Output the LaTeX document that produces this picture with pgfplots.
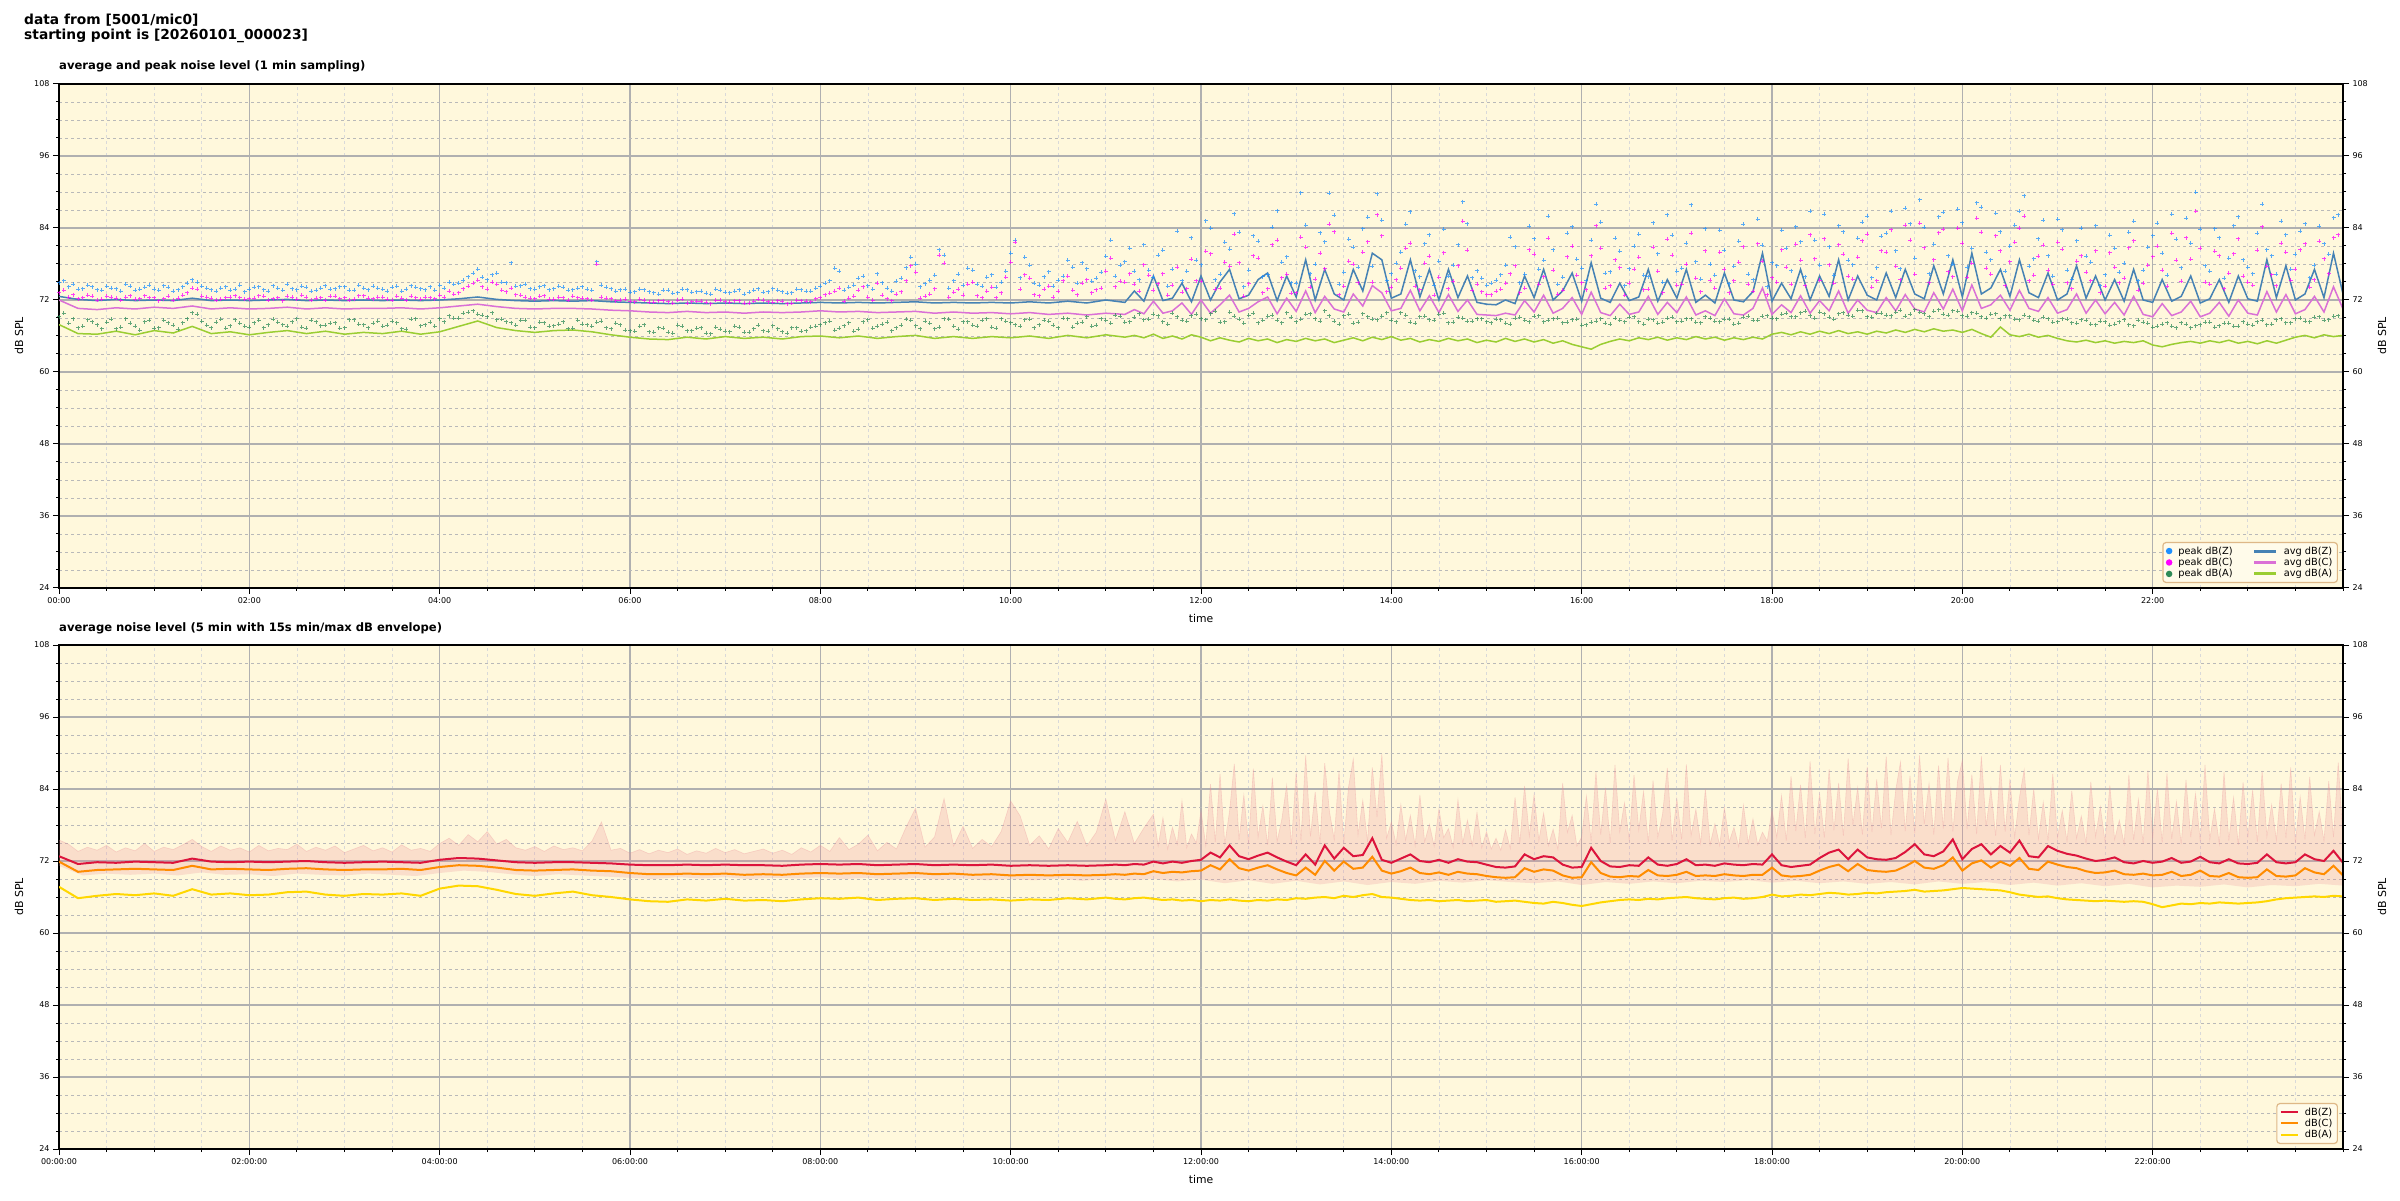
\documentclass[border=0pt]{standalone}
\usepackage{pgfplots}
\pgfplotsset{compat=1.18}
\usepackage{pgfplotstable}
\usepgfplotslibrary{fillbetween}
\usepackage{fontspec}
\setmainfont{DejaVu Sans}

\definecolor{cornsilk}{RGB}{255,248,220}
\definecolor{peakz}{RGB}{30,144,255}
\definecolor{peakc}{RGB}{255,0,255}
\definecolor{peaka}{RGB}{46,139,87}
\definecolor{avgz}{RGB}{70,130,180}
\definecolor{avgc}{RGB}{218,112,214}
\definecolor{avga}{RGB}{154,205,50}
\definecolor{lvlz}{RGB}{220,20,60}
\definecolor{lvlc}{RGB}{255,140,0}
\definecolor{lvla}{RGB}{255,215,0}
\definecolor{envcol}{RGB}{235,140,150}
\definecolor{legedge}{RGB}{222,184,135}
\definecolor{gridmaj}{RGB}{176,176,176}

\pgfplotsset{
  lineleg/.style={legend image code/.code={\draw[##1, line width=3pt] (0pt,0pt) -- (22pt,0pt);}},
  dotleg/.style={legend image code/.code={\fill[##1] (11pt,0pt) circle (2.6pt);}},
  peaks/.style={only marks, mark=+, mark size=2pt, opacity=0.75, mark options={line width=0.9pt}, forget plot},
  noise/.style={
    scale only axis, width=2284pt, height=504pt,
    xmin=0, xmax=24, ymin=24, ymax=108,
    xtick={0,2,...,22}, minor xtick={0,0.5,...,24},
    ytick={24,36,...,108}, minor ytick={24,27,...,108},
    grid=both,
    major grid style={gridmaj, line width=1.3pt},
    minor x grid style={gray!30, dashed, line width=0.8pt},
    minor y grid style={gray!55, dashed, line width=0.8pt},
    axis background/.style={fill=cornsilk},
    axis line style={line width=1.5pt},
    tick style={black, line width=1pt},
    major tick length=6pt, minor tick length=3pt,
    tick align=outside,
    xtick pos=left, ytick pos=left,
    tick label style={font=\fontsize{8}{9}\selectfont},
    /pgf/number format/assume math mode=true,
    title style={at={(0,1)}, anchor=base west, yshift=8pt, inner sep=0pt,
      font=\bfseries\fontsize{11.6}{13}\selectfont},
    xlabel={time},
    xlabel style={at={(axis description cs:0.5,0)}, anchor=north, yshift=-26pt,
      inner sep=0pt, font=\fontsize{10.8}{12}\selectfont},
    ylabel={dB SPL},
    ylabel style={at={(axis description cs:0,0.5)}, anchor=center, yshift=40pt,
      font=\fontsize{11}{12}\selectfont},
    legend cell align=left,
    legend style={anchor=south east, at={(axis description cs:0.9978,0.0099)},
      draw=legedge, line width=1.2pt, rounded corners=3pt, fill=cornsilk!60!white,
      font=\fontsize{9.8}{11}\selectfont, row sep=-1.5pt,
      /tikz/every odd column/.append style={column sep=4pt},
      /tikz/every even column/.append style={column sep=18pt}},
  },
  rightax/.style={
    scale only axis, width=2284pt, height=504pt,
    xmin=0, xmax=24, ymin=24, ymax=108,
    hide x axis, axis y line*=right,
    ytick={24,36,...,108}, minor ytick={24,27,...,108},
    axis line style={line width=1.5pt},
    tick style={black, line width=1pt},
    major tick length=6pt, minor tick length=3pt,
    tick align=outside,
    tick label style={font=\fontsize{8}{9}\selectfont},
    /pgf/number format/assume math mode=true,
    ylabel={dB SPL},
    ylabel style={at={(axis description cs:1,0.5)}, anchor=center, yshift=-39pt,
      font=\fontsize{11}{12}\selectfont},
  },
}

\begin{document}

% 1 min averages
\pgfplotstableread{
t z c a
0.0 72.6 72.0 67.9
0.2 72.1 70.6 66.4
0.4 71.9 70.4 66.3
0.6 72.1 70.7 66.8
0.8 71.9 70.5 66.2
1.0 72.0 70.8 66.9
1.2 71.9 70.6 66.5
1.4 72.3 71.0 67.6
1.6 71.9 70.5 66.4
1.8 72.0 70.7 66.7
2.0 71.9 70.5 66.2
2.2 72.0 70.6 66.6
2.4 72.1 70.8 66.9
2.6 71.9 70.5 66.4
2.8 72.0 70.7 66.8
3.0 71.9 70.5 66.3
3.2 72.0 70.6 66.6
3.4 71.9 70.6 66.4
3.6 72.0 70.7 66.8
3.8 71.9 70.5 66.3
4.0 72.0 70.7 66.7
4.2 72.2 71.0 67.6
4.4 72.5 71.3 68.5
4.6 72.1 70.9 67.4
4.8 71.9 70.6 66.9
5.0 71.8 70.5 66.6
5.2 71.9 70.6 66.9
5.4 71.8 70.6 67.0
5.6 71.9 70.5 66.7
5.8 71.7 70.3 66.2
6.0 71.6 70.2 65.8
6.2 71.5 70.0 65.5
6.4 71.4 69.9 65.4
6.6 71.5 70.1 65.8
6.8 71.4 69.9 65.5
7.0 71.5 70.0 65.9
7.2 71.4 69.8 65.6
7.4 71.5 70.0 65.8
7.6 71.4 69.9 65.5
7.8 71.5 70.0 65.9
8.0 71.6 70.2 66.0
8.2 71.5 70.0 65.7
8.4 71.6 70.1 66.0
8.6 71.5 69.9 65.6
8.8 71.6 70.0 65.9
9.0 71.7 70.1 66.1
9.2 71.5 69.8 65.6
9.4 71.6 70.0 65.9
9.6 71.5 69.8 65.6
9.8 71.6 69.9 65.9
10.0 71.5 69.7 65.7
10.2 71.7 69.9 66.0
10.4 71.5 69.6 65.6
10.6 71.8 69.8 66.1
10.8 71.5 69.5 65.7
11.0 72.0 69.8 66.2
11.2 71.6 69.6 65.8
11.3 73.5 70.4 66.1
11.4 71.8 69.7 65.7
11.5 76.0 71.8 66.3
11.6 71.9 69.8 65.6
11.7 72.3 70.2 66.0
11.8 74.8 71.5 65.5
11.9 71.7 69.6 66.2
12.0 76.0 72.0 65.8
12.1 72.0 69.8 65.2
12.2 75.0 71.2 65.7
12.3 77.1 72.8 65.3
12.4 72.2 70.0 65.0
12.5 72.8 70.6 65.6
12.6 75.4 71.7 65.2
12.7 76.5 72.5 65.5
12.8 71.9 69.7 64.9
12.9 76.0 72.3 65.4
13.0 72.5 70.1 65.1
13.1 78.7 73.5 65.6
13.2 72.0 69.9 65.2
13.3 77.1 72.6 65.5
13.4 73.0 70.5 64.9
13.5 72.0 70.0 65.3
13.6 77.1 73.0 65.7
13.7 73.5 71.0 65.2
13.8 79.8 74.4 65.8
13.9 78.7 73.2 65.4
14.0 72.3 70.2 65.9
14.1 73.0 70.6 65.3
14.2 78.7 73.6 65.6
14.3 72.5 70.2 65.0
14.4 77.1 72.7 65.4
14.5 72.0 69.9 65.1
14.6 77.1 72.9 65.6
14.7 72.4 70.1 65.2
14.8 76.0 72.0 65.5
14.9 71.6 69.6 64.9
15.0 71.3 69.5 65.3
15.1 71.2 69.4 65.0
15.2 72.0 69.8 65.6
15.3 71.4 69.5 65.1
15.4 76.0 71.9 65.5
15.5 72.4 70.0 65.0
15.6 77.1 72.8 65.4
15.7 72.0 69.8 64.8
15.8 73.5 70.6 65.2
15.9 76.5 72.4 64.6
16.0 71.8 69.6 64.2
16.1 78.2 73.3 63.8
16.2 72.3 69.9 64.6
16.3 71.6 69.4 65.1
16.4 74.8 71.3 65.5
16.5 71.9 69.6 65.2
16.6 72.5 70.0 65.7
16.7 77.1 72.6 65.4
16.8 71.8 69.6 65.8
16.9 75.4 71.6 65.3
17.0 72.3 69.9 65.7
17.1 77.1 72.5 65.4
17.2 71.6 69.5 65.9
17.3 72.8 70.2 65.5
17.4 71.5 69.4 65.8
17.5 76.5 72.2 65.3
17.6 72.0 69.7 65.7
17.7 71.7 69.5 65.4
17.8 73.4 70.6 65.8
17.9 79.8 74.0 65.5
18.0 71.8 69.6 66.3
18.1 74.8 71.2 66.6
18.2 72.2 69.9 66.2
18.3 77.1 72.7 66.7
18.4 72.0 69.8 66.3
18.5 76.0 71.9 66.8
18.6 72.6 70.2 66.4
18.7 78.7 73.5 66.9
18.8 72.0 69.8 66.4
18.9 76.0 72.0 66.7
19.0 72.8 70.3 66.3
19.1 72.0 69.9 66.8
19.2 76.5 72.4 66.5
19.3 72.4 70.2 67.0
19.4 77.1 72.9 66.6
19.5 73.0 70.5 67.1
19.6 72.2 70.0 66.7
19.7 77.7 73.2 67.2
19.8 73.0 70.5 66.8
19.9 78.7 73.8 67.0
20.0 72.5 70.2 66.6
20.1 79.8 74.5 67.1
20.2 73.0 70.6 66.4
20.3 74.0 71.2 65.8
20.4 77.1 72.8 67.5
20.5 72.6 70.3 66.2
20.6 78.7 73.6 65.9
20.7 73.2 70.6 66.3
20.8 72.4 70.1 65.8
20.9 76.5 72.4 66.1
21.0 72.0 69.8 65.6
21.1 73.0 70.4 65.2
21.2 77.7 73.0 65.0
21.3 72.3 69.8 65.3
21.4 76.0 72.0 64.9
21.5 72.0 69.7 65.2
21.6 75.4 71.6 64.8
21.7 71.8 69.5 65.1
21.8 77.1 72.6 64.9
21.9 72.0 69.6 65.2
22.0 71.6 69.2 64.5
22.1 75.4 71.4 64.2
22.2 71.8 69.4 64.6
22.3 72.6 70.0 64.9
22.4 76.0 71.8 65.1
22.5 71.5 69.2 64.8
22.6 72.2 69.8 65.2
22.7 75.4 71.6 64.9
22.8 71.6 69.3 65.3
22.9 76.0 72.0 64.8
23.0 72.2 69.8 65.1
23.1 71.8 69.5 64.7
23.2 78.7 73.4 65.2
23.3 72.4 70.0 64.8
23.4 77.7 72.9 65.3
23.5 72.0 69.7 65.8
23.6 73.0 70.4 66.1
23.7 77.1 72.6 65.7
23.8 72.4 70.0 66.2
23.9 79.8 74.2 65.9
24.0 73.0 70.5 66.1
}\avgtab

% 1 min peaks (first set)
\pgfplotstableread{
t pz pc pa
0.05 75.2 73.6 69.8
0.15 74.6 72.9 68.9
0.25 73.9 72.4 67.6
0.35 74.2 72.6 68.4
0.45 73.6 72.1 67.2
0.55 74.0 72.5 68.8
0.65 73.5 72.0 67.5
0.75 74.3 72.7 68.1
0.85 73.8 72.2 67.0
0.95 74.5 72.4 68.6
1.05 73.6 71.9 67.4
1.15 74.1 72.6 68.2
1.25 73.7 72.3 67.1
1.35 74.8 73.2 68.9
1.45 75.0 73.8 69.6
1.55 74.0 72.5 67.8
1.65 73.5 72.0 68.3
1.75 74.2 72.4 67.3
1.85 73.8 72.7 68.7
1.95 73.4 72.1 67.6
2.05 74.1 72.3 68.2
2.15 73.7 72.6 67.4
2.25 74.4 72.2 68.8
2.35 73.6 71.9 67.9
2.45 73.9 72.5 68.4
2.55 74.3 72.8 67.5
2.65 73.5 72.0 68.6
2.75 74.0 72.4 67.7
2.85 73.8 72.6 68.1
2.95 74.2 72.2 67.3
3.05 73.6 72.0 68.7
3.15 74.5 72.7 68.0
3.25 73.7 72.3 67.4
3.35 74.0 72.5 68.5
3.45 73.5 72.1 67.8
3.55 74.3 72.6 68.2
3.65 73.8 72.0 67.1
3.75 74.1 72.4 68.9
3.85 73.7 72.5 67.9
3.95 73.6 72.2 67.6
4.05 74.0 72.5 68.4
4.15 74.6 73.0 69.0
4.25 75.3 73.9 69.8
4.35 76.5 74.8 70.2
4.45 75.8 74.2 69.5
4.55 76.2 75.0 69.9
4.65 75.0 73.6 68.8
4.75 78.2 74.0 68.2
4.85 74.4 72.8 68.6
4.95 73.9 72.3 67.5
5.05 74.2 72.6 68.3
5.15 73.7 72.1 67.6
5.25 74.3 72.5 68.0
5.35 73.6 72.0 67.2
5.45 74.0 72.4 68.6
5.55 73.8 72.2 67.9
5.65 78.4 78.0 68.3
5.75 74.1 72.3 67.4
5.85 73.5 71.9 68.1
5.95 73.8 72.1 67.0
6.05 73.4 71.7 66.8
6.15 73.7 72.0 67.9
6.25 73.2 71.6 66.6
6.35 73.6 71.9 67.3
6.45 73.1 71.5 66.5
6.55 73.8 72.1 67.6
6.65 73.3 71.7 66.9
6.75 73.5 71.8 67.4
6.85 73.0 71.4 66.4
6.95 73.6 72.0 67.1
7.05 73.2 71.6 66.7
7.15 73.7 71.9 67.5
7.25 73.3 71.5 66.6
7.35 73.9 72.1 67.8
7.45 73.4 71.7 66.8
7.55 73.6 71.9 67.2
7.65 73.1 71.4 66.5
7.75 73.8 72.0 67.4
7.85 73.5 71.8 66.9
7.95 74.0 72.2 67.6
8.05 74.8 72.9 68.2
8.15 77.3 73.5 67.0
8.25 73.6 71.8 67.7
8.35 74.5 72.6 66.8
8.45 76.0 74.2 68.4
8.55 73.8 72.0 67.3
8.65 74.9 72.8 68.0
8.75 73.5 71.9 66.9
8.85 75.6 73.4 67.8
8.95 79.1 77.7 68.6
9.05 74.2 72.3 67.2
9.15 75.3 73.0 68.1
9.25 80.4 79.5 67.5
9.35 74.0 72.5 68.8
9.45 76.3 73.8 67.1
9.55 77.3 74.6 68.4
9.65 74.6 72.7 67.6
9.75 75.8 73.5 68.9
9.85 74.1 72.4 67.3
9.95 76.8 75.8 68.5
10.05 82.0 81.6 67.9
10.15 79.1 76.2 68.7
10.25 74.8 72.9 67.4
10.35 75.9 73.8 68.6
10.45 74.3 72.5 67.8
10.55 76.0 75.2 69.0
10.65 77.5 73.6 67.5
10.75 78.2 74.8 68.3
10.85 75.1 73.2 67.6
10.95 76.6 74.0 68.9
11.05 82.0 79.0 68.1
11.15 77.8 75.1 69.3
11.25 80.6 76.4 68.4
11.35 75.4 73.5 69.7
11.45 77.0 76.1 68.8
11.55 79.5 74.7 69.4
11.65 74.3 72.8 68.0
11.75 83.5 77.5 69.2
11.85 76.8 73.9 68.5
11.95 78.6 75.2 69.6
12.05 85.2 80.1 68.7
12.15 75.4 73.8 70.1
12.25 81.6 78.3 68.4
12.35 86.4 83.0 69.3
12.45 74.2 72.6 68.1
12.55 82.7 79.4 69.8
12.65 75.9 73.2 68.6
12.75 84.1 81.2 69.5
12.85 78.3 75.7 68.2
12.95 74.9 73.1 69.1
13.05 89.9 82.5 68.8
13.15 76.4 74.1 69.7
13.25 83.2 79.8 68.5
13.35 89.8 84.6 69.4
13.45 74.6 72.9 68.0
13.55 82.1 78.5 69.6
13.65 77.5 74.9 68.3
13.75 85.8 81.7 69.2
13.85 89.7 86.2 68.7
13.95 75.3 73.4 69.9
14.05 78.1 75.4 68.4
14.15 84.6 80.6 69.5
14.25 76.9 74.3 68.1
14.35 81.4 78.1 69.3
14.45 74.5 72.8 68.6
14.55 83.8 79.9 69.8
14.65 77.8 75.1 68.3
14.75 88.4 85.1 69.0
14.85 75.7 73.6 68.5
14.95 75.6 73.4 68.9
15.05 74.8 72.9 68.2
15.15 76.2 73.8 68.7
15.25 82.5 76.4 68.0
15.35 74.9 73.2 69.1
15.45 84.3 80.4 68.4
15.55 77.1 74.6 69.4
15.65 86.0 82.3 68.6
15.75 74.6 73.0 69.0
15.85 83.1 79.2 68.3
15.95 78.8 76.1 68.8
16.05 75.2 73.7 67.9
16.15 88.0 84.4 68.5
16.25 76.5 74.0 68.1
16.35 82.3 78.7 69.0
16.45 74.4 72.8 68.4
16.55 81.0 77.1 69.2
16.65 76.1 73.7 68.0
16.75 84.9 80.8 68.7
16.85 75.0 73.2 68.3
16.95 82.8 79.5 69.1
17.05 77.3 74.6 68.5
17.15 87.9 83.1 68.9
17.25 75.5 73.4 68.2
17.35 78.0 75.3 69.0
17.45 83.6 80.0 68.4
17.55 74.7 73.2 68.8
17.65 81.8 78.3 68.1
17.75 76.3 74.6 69.3
17.85 85.5 81.4 68.6
17.95 74.2 72.9 69.4
18.05 77.7 75.0 68.9
18.15 80.6 77.5 69.8
18.25 84.2 81.3 69.2
18.35 75.9 74.4 70.1
18.45 82.0 78.9 69.0
18.55 86.3 82.2 69.7
18.65 76.1 74.8 68.8
18.75 83.4 79.6 69.9
18.85 77.9 75.5 69.3
18.95 85.0 81.9 70.2
19.05 75.7 74.1 69.1
19.15 82.6 80.2 69.8
19.25 86.8 83.7 69.4
19.35 77.2 75.4 70.3
19.45 84.7 82.0 69.6
19.55 88.7 84.8 70.0
19.65 76.4 74.9 69.2
19.75 85.9 83.2 70.4
19.85 79.4 76.7 69.5
19.95 87.1 84.0 70.1
20.05 77.5 75.8 69.3
20.15 88.2 85.6 69.8
20.25 80.0 77.3 69.0
20.35 86.5 82.7 69.7
20.45 76.8 74.4 69.4
20.55 84.5 81.6 68.8
20.65 89.4 86.0 69.5
20.75 78.9 76.1 68.6
20.85 85.3 81.1 69.1
20.95 76.0 74.6 68.3
21.05 83.7 80.5 68.9
21.15 75.5 73.9 68.2
21.25 84.0 79.4 68.7
21.35 78.3 75.2 68.0
21.45 74.4 73.2 68.5
21.55 82.8 79.9 67.8
21.65 76.6 74.9 68.4
21.75 83.3 80.7 67.9
21.85 75.2 73.6 68.6
21.95 80.8 77.8 68.1
22.05 84.8 81.0 67.6
22.15 76.1 74.3 68.2
22.25 82.1 78.6 67.4
22.35 85.6 82.4 68.0
22.45 90.0 86.8 67.7
22.55 77.7 75.0 68.3
22.65 83.9 80.1 67.5
22.75 75.6 73.9 68.1
22.85 84.4 79.7 67.6
22.95 78.7 76.0 68.4
23.05 76.4 74.5 67.8
23.15 88.0 84.2 68.6
23.25 79.4 76.2 68.0
23.35 85.1 81.5 68.9
23.45 77.1 75.3 68.2
23.55 83.5 80.4 69.0
23.65 75.7 74.1 68.4
23.75 84.3 81.8 69.2
23.85 79.6 76.4 68.7
23.95 86.2 82.9 69.4
}\peaktab

% 1 min peaks (second set)
\pgfplotstableread{
t pz pc pa
0.0 74.9 73.2 69.2
0.1 74.2 72.5 68.1
0.2 73.8 72.2 67.4
0.3 74.5 72.8 68.7
0.4 73.7 72.0 67.9
0.5 74.3 72.6 68.3
0.6 73.9 72.3 67.2
0.7 74.6 72.5 68.9
0.8 73.6 72.1 67.6
0.9 74.1 72.7 68.4
1.0 73.8 72.4 67.3
1.1 74.4 72.2 68.6
1.2 73.5 72.0 67.8
1.3 74.2 72.8 68.2
1.4 75.4 74.0 69.9
1.5 74.3 72.6 68.5
1.6 73.7 72.3 67.4
1.7 74.0 72.1 68.8
1.8 73.6 72.5 67.7
1.9 74.5 72.4 68.1
2.0 73.8 72.2 67.5
2.1 74.2 72.7 68.6
2.2 73.5 72.0 67.9
2.3 74.0 72.4 68.3
2.4 74.6 72.6 67.6
2.5 73.7 72.1 68.9
2.6 74.1 72.5 67.3
2.7 73.6 72.3 68.4
2.8 74.4 72.0 67.8
2.9 73.9 72.6 68.2
3.0 74.2 72.4 67.4
3.1 73.6 72.1 68.7
3.2 74.0 72.7 67.9
3.3 74.3 72.2 68.1
3.4 73.8 72.5 67.6
3.5 74.1 72.0 68.5
3.6 73.5 72.3 67.2
3.7 74.4 72.6 68.8
3.8 73.9 72.1 67.7
3.9 74.2 72.4 68.3
4.0 74.5 72.8 68.9
4.1 75.0 73.5 69.4
4.2 74.8 73.2 69.0
4.3 75.9 74.3 70.0
4.4 77.1 75.3 69.6
4.5 75.4 73.8 69.2
4.6 76.5 74.6 68.7
4.7 74.9 73.4 68.4
4.8 74.3 72.9 67.8
4.9 74.6 72.5 68.6
5.0 73.8 72.2 67.4
5.1 74.4 72.7 68.2
5.2 73.9 72.1 67.7
5.3 74.1 72.4 68.4
5.4 73.7 72.6 67.3
5.5 74.2 72.3 68.0
5.6 73.6 72.0 67.6
5.7 74.5 72.5 68.5
5.8 73.9 72.2 67.2
5.9 73.7 72.0 67.9
6.0 73.3 71.8 66.9
6.1 73.8 72.1 67.6
6.2 73.4 71.6 66.7
6.3 73.0 71.9 67.4
6.4 73.6 71.7 66.6
6.5 73.2 72.0 67.8
6.6 73.7 71.5 66.9
6.7 73.4 71.8 67.3
6.8 73.1 71.6 66.5
6.9 73.8 72.0 67.5
7.0 73.3 71.7 66.8
7.1 73.5 71.9 67.6
7.2 73.0 71.5 66.6
7.3 73.6 71.8 67.2
7.4 73.3 72.0 66.9
7.5 73.9 71.6 67.7
7.6 73.4 71.8 66.7
7.7 73.2 71.5 67.4
7.8 73.7 71.9 66.8
7.9 73.5 71.7 67.5
8.0 74.3 72.4 67.9
8.1 75.2 73.1 68.5
8.2 76.8 74.0 67.3
8.3 74.1 72.3 68.2
8.4 75.6 73.6 67.1
8.5 74.4 72.5 68.7
8.6 76.4 74.8 67.6
8.7 74.0 72.2 68.3
8.8 75.1 73.0 67.4
8.9 77.4 75.2 68.8
9.0 78.0 76.6 67.7
9.1 74.7 72.6 68.5
9.2 76.1 73.9 67.2
9.3 79.5 78.1 68.9
9.4 75.2 73.3 67.6
9.5 74.5 72.8 68.4
9.6 77.0 75.0 67.8
9.7 74.3 72.4 68.6
9.8 76.2 74.1 67.5
9.9 75.0 73.2 68.9
10.0 79.8 78.3 68.2
10.1 75.7 73.8 67.6
10.2 77.8 75.6 68.8
10.3 74.5 72.7 67.9
10.4 76.7 74.3 68.5
10.5 75.3 73.5 67.4
10.6 78.6 76.0 68.9
10.7 74.8 72.9 68.1
10.8 77.2 75.4 69.2
10.9 75.6 73.7 67.8
11.0 79.3 76.8 68.6
11.1 76.0 74.2 69.5
11.2 78.4 75.0 68.3
11.3 76.8 74.6 69.1
11.4 81.2 77.9 68.7
11.5 75.8 73.6 69.6
11.6 80.3 76.4 68.4
11.7 77.1 74.5 69.8
11.8 75.2 73.3 68.6
11.9 82.4 78.8 69.4
12.0 77.9 75.1 68.9
12.1 84.0 79.7 69.7
12.2 76.3 74.0 68.3
12.3 80.5 77.6 70.0
12.4 83.3 78.2 68.8
12.5 77.0 74.7 69.5
12.6 81.8 79.0 68.2
12.7 76.2 73.9 69.3
12.8 86.9 82.0 68.6
12.9 79.2 76.3 69.9
13.0 74.8 73.2 68.4
13.1 84.5 80.8 69.6
13.2 78.0 75.5 68.9
13.3 81.7 77.2 70.2
13.4 86.1 83.4 68.5
13.5 76.6 74.3 69.4
13.6 80.8 78.0 68.1
13.7 83.9 80.0 69.7
13.8 77.6 75.0 68.8
13.9 85.3 82.7 69.3
14.0 76.4 74.1 68.6
14.1 80.0 77.3 69.9
14.2 86.7 81.5 68.3
14.3 75.9 73.7 69.2
14.4 82.9 79.3 68.7
14.5 78.5 75.8 69.6
14.6 76.0 73.9 68.2
14.7 81.2 77.7 69.1
14.8 84.7 80.3 68.5
14.9 76.9 74.6 68.9
15.0 74.5 72.9 68.4
15.1 75.3 73.5 68.8
15.2 77.8 74.8 68.1
15.3 80.9 77.7 69.0
15.4 76.3 74.0 68.6
15.5 82.2 79.6 69.3
15.6 78.6 75.9 68.4
15.7 80.4 77.0 68.9
15.8 75.8 73.6 68.2
15.9 84.2 81.0 68.7
16.0 77.3 74.9 67.8
16.1 82.0 79.4 68.3
16.2 85.0 80.6 68.9
16.3 76.7 74.4 68.0
16.4 80.1 77.4 68.6
16.5 77.2 74.8 69.1
16.6 83.0 79.1 68.4
16.7 75.9 73.8 68.8
16.8 79.7 76.8 68.1
16.9 86.2 82.1 69.0
17.0 76.8 74.5 68.4
17.1 81.5 78.0 68.9
17.2 78.4 75.6 68.3
17.3 83.9 80.2 69.2
17.4 76.1 74.0 68.5
17.5 80.3 77.1 68.8
17.6 77.6 75.2 68.0
17.7 84.6 80.9 69.1
17.8 75.4 73.5 68.6
17.9 81.1 78.5 69.3
18.0 78.2 75.7 69.0
18.1 83.6 80.4 69.6
18.2 76.9 74.6 69.2
18.3 81.7 78.6 69.9
18.4 86.8 82.9 69.4
18.5 77.8 75.3 70.0
18.6 80.9 77.9 69.1
18.7 84.4 81.2 69.7
18.8 78.6 76.0 69.5
18.9 82.3 79.1 70.3
19.0 86.0 83.0 69.2
19.1 77.4 75.2 69.8
19.2 83.1 80.0 69.5
19.3 80.2 77.6 70.0
19.4 87.3 84.5 69.3
19.5 79.0 76.3 70.4
19.6 84.1 80.7 69.7
19.7 81.3 78.7 70.1
19.8 86.6 83.8 69.6
19.9 78.0 75.9 70.2
20.0 84.9 81.5 69.4
20.1 80.6 78.1 69.9
20.2 87.5 83.3 69.2
20.3 78.7 76.3 69.6
20.4 83.4 80.2 68.9
20.5 81.0 78.4 69.4
20.6 86.8 84.0 68.7
20.7 77.6 75.2 69.2
20.8 82.2 79.3 68.5
20.9 79.4 77.0 68.9
21.0 85.5 81.6 68.4
21.1 77.0 74.9 68.8
21.2 81.9 78.5 68.1
21.3 79.3 76.6 68.6
21.4 84.4 80.2 67.9
21.5 76.2 74.3 68.4
21.6 80.6 77.5 68.0
21.7 78.1 75.6 68.7
21.8 85.1 81.9 67.7
21.9 77.0 74.8 68.3
22.0 82.7 79.2 67.5
22.1 79.8 77.0 68.0
22.2 86.3 83.1 67.6
22.3 77.4 75.1 68.2
22.4 81.5 78.8 67.4
22.5 83.8 80.6 67.9
22.6 76.8 74.6 68.3
22.7 82.4 79.4 67.7
22.8 79.0 76.5 68.1
22.9 85.9 82.2 67.6
23.0 77.5 75.0 68.0
23.1 83.1 80.3 68.4
23.2 80.4 77.6 67.9
23.3 76.3 74.4 68.7
23.4 82.9 80.0 68.2
23.5 79.6 77.1 68.9
23.6 84.7 81.4 68.5
23.7 77.8 75.4 69.1
23.8 81.4 78.9 68.6
23.9 85.7 82.4 69.3
}\peaktabb

% 5 min averages
\pgfplotstableread{
t z c a
0.0 72.8 71.9 67.7
0.2 71.5 70.2 65.8
0.4 71.8 70.5 66.2
0.6 71.7 70.6 66.5
0.8 71.9 70.7 66.3
1.0 71.8 70.6 66.6
1.2 71.7 70.5 66.2
1.4 72.4 71.2 67.3
1.6 71.9 70.6 66.4
1.8 71.8 70.7 66.6
2.0 71.9 70.6 66.3
2.2 71.8 70.5 66.4
2.4 71.9 70.7 66.8
2.6 72.0 70.8 66.9
2.8 71.8 70.6 66.4
3.0 71.7 70.5 66.2
3.2 71.8 70.6 66.5
3.4 71.9 70.6 66.4
3.6 71.8 70.7 66.6
3.8 71.7 70.5 66.2
4.0 72.2 71.0 67.4
4.2 72.5 71.3 67.9
4.4 72.4 71.2 67.8
4.6 72.1 70.9 67.2
4.8 71.8 70.5 66.5
5.0 71.7 70.4 66.2
5.2 71.8 70.5 66.6
5.4 71.8 70.6 66.9
5.6 71.7 70.4 66.3
5.8 71.6 70.3 66.0
6.0 71.4 70.0 65.6
6.2 71.3 69.8 65.3
6.4 71.3 69.8 65.2
6.6 71.4 69.9 65.6
6.8 71.3 69.8 65.4
7.0 71.4 69.9 65.7
7.2 71.3 69.7 65.4
7.4 71.3 69.8 65.5
7.6 71.2 69.7 65.3
7.8 71.4 69.9 65.6
8.0 71.5 70.0 65.8
8.2 71.4 69.9 65.7
8.4 71.5 70.0 65.9
8.6 71.3 69.8 65.5
8.8 71.4 69.9 65.7
9.0 71.5 70.0 65.8
9.2 71.3 69.8 65.5
9.4 71.4 69.9 65.7
9.6 71.3 69.7 65.5
9.8 71.4 69.8 65.6
10.0 71.2 69.6 65.4
10.2 71.3 69.7 65.6
10.4 71.2 69.6 65.5
10.6 71.3 69.7 65.8
10.8 71.2 69.6 65.6
11.0 71.3 69.7 65.9
11.1 71.4 69.8 65.7
11.2 71.3 69.7 65.6
11.3 71.5 69.9 65.8
11.4 71.4 69.8 65.9
11.5 71.9 70.3 65.7
11.6 71.6 70.0 65.5
11.7 71.9 70.2 65.6
11.8 71.7 70.1 65.4
11.9 72.0 70.3 65.5
12.0 72.2 70.4 65.3
12.1 73.4 71.3 65.5
12.2 72.6 70.6 65.4
12.3 74.6 72.3 65.6
12.4 72.8 70.8 65.4
12.5 72.3 70.4 65.3
12.6 72.9 70.9 65.5
12.7 73.4 71.3 65.4
12.8 72.6 70.6 65.6
12.9 71.9 70.0 65.5
13.0 71.3 69.6 65.8
13.1 73.1 70.9 65.7
13.2 71.4 69.7 65.9
13.3 74.6 72.0 66.0
13.4 72.4 70.4 65.8
13.5 74.2 71.9 66.2
13.6 72.8 70.7 66.0
13.7 73.0 70.9 66.3
13.8 75.8 72.7 66.5
13.9 72.2 70.4 66.0
14.0 71.7 69.9 65.9
14.1 72.4 70.3 65.7
14.2 73.1 70.9 65.5
14.3 72.0 70.0 65.4
14.4 71.8 69.8 65.5
14.5 72.2 70.1 65.3
14.6 71.7 69.7 65.4
14.7 72.3 70.2 65.5
14.8 71.9 69.9 65.3
14.9 71.8 69.8 65.4
15.0 71.4 69.5 65.5
15.1 71.0 69.3 65.2
15.2 70.9 69.2 65.3
15.3 71.1 69.3 65.4
15.4 73.1 70.8 65.2
15.5 72.3 70.2 65.0
15.6 72.8 70.6 64.9
15.7 72.6 70.4 65.2
15.8 71.4 69.6 65.0
15.9 70.9 69.2 64.7
16.0 71.0 69.3 64.5
16.1 74.2 71.8 64.8
16.2 72.0 70.0 65.1
16.3 71.1 69.4 65.3
16.4 71.0 69.3 65.5
16.5 71.3 69.5 65.6
16.6 71.2 69.4 65.5
16.7 72.6 70.5 65.7
16.8 71.4 69.6 65.6
16.9 71.2 69.5 65.8
17.0 71.5 69.7 65.9
17.1 72.3 70.2 66.0
17.2 71.3 69.5 65.8
17.3 71.4 69.6 65.7
17.4 71.2 69.5 65.6
17.5 71.6 69.8 65.8
17.6 71.4 69.6 65.9
17.7 71.3 69.5 65.7
17.8 71.5 69.7 65.8
17.9 71.4 69.7 66.0
18.0 73.1 70.9 66.4
18.1 71.3 69.6 66.1
18.2 71.0 69.4 66.2
18.3 71.2 69.5 66.4
18.4 71.4 69.7 66.3
18.5 72.5 70.4 66.5
18.6 73.4 71.0 66.7
18.7 73.9 71.4 66.6
18.8 72.3 70.3 66.4
18.9 73.9 71.5 66.5
19.0 72.6 70.5 66.7
19.1 72.3 70.3 66.6
19.2 72.2 70.2 66.8
19.3 72.5 70.4 66.9
19.4 73.5 71.1 67.0
19.5 74.8 72.0 67.2
19.6 73.1 70.9 66.9
19.7 72.8 70.7 67.0
19.8 73.6 71.3 67.1
19.9 75.6 72.6 67.3
20.0 72.3 70.4 67.5
20.1 74.0 71.6 67.4
20.2 74.8 72.1 67.3
20.3 73.1 70.9 67.2
20.4 74.5 71.9 67.1
20.5 73.4 71.2 66.8
20.6 75.4 72.5 66.4
20.7 72.8 70.7 66.2
20.8 72.6 70.5 66.0
20.9 74.5 71.9 66.1
21.0 73.7 71.4 65.8
21.1 73.2 71.0 65.6
21.2 72.9 70.8 65.5
21.3 72.4 70.3 65.4
21.4 72.0 70.0 65.3
21.5 72.2 70.1 65.4
21.6 72.6 70.4 65.3
21.7 71.8 69.8 65.2
21.8 71.6 69.7 65.3
21.9 72.0 69.9 65.2
22.0 71.7 69.6 64.8
22.1 71.9 69.7 64.3
22.2 72.5 70.2 64.6
22.3 71.7 69.5 64.9
22.4 71.9 69.7 64.8
22.5 72.7 70.4 65.0
22.6 71.8 69.5 64.9
22.7 71.6 69.4 65.1
22.8 72.3 70.0 65.0
22.9 71.6 69.3 64.9
23.0 71.5 69.2 65.0
23.1 71.7 69.3 65.1
23.2 73.1 70.6 65.3
23.3 71.8 69.5 65.6
23.4 71.6 69.4 65.8
23.5 71.8 69.6 65.9
23.6 73.1 70.8 66.0
23.7 72.3 70.1 66.1
23.8 72.0 69.8 66.0
23.9 73.7 71.2 66.2
24.0 71.7 69.6 66.1
}\lvltab

% 15 s max envelope
\pgfplotstableread{
t hi
0.0 75.5
0.1 74.8
0.2 73.6
0.3 74.3
0.4 73.8
0.5 74.6
0.6 73.5
0.7 74.2
0.8 73.7
0.9 74.9
1.0 73.6
1.1 74.3
1.2 73.9
1.3 74.7
1.4 75.6
1.5 74.4
1.6 73.6
1.7 74.5
1.8 73.8
1.9 74.2
2.0 73.5
2.1 74.6
2.2 73.7
2.3 74.1
2.4 73.9
2.5 74.8
2.6 73.6
2.7 74.3
2.8 73.8
2.9 74.5
3.0 73.4
3.1 74.0
3.2 74.6
3.3 73.7
3.4 74.2
3.5 73.5
3.6 74.7
3.7 73.8
3.8 74.1
3.9 73.6
4.0 74.9
4.1 75.8
4.2 74.6
4.3 76.4
4.4 75.2
4.5 76.9
4.6 74.8
4.7 75.6
4.8 74.2
4.9 73.8
5.0 74.4
5.1 73.6
5.2 74.5
5.3 73.9
5.4 74.2
5.5 73.7
5.6 75.3
5.7 78.5
5.8 73.8
5.9 74.1
6.0 73.3
6.1 73.9
6.2 73.2
6.3 73.8
6.4 73.4
6.5 74.0
6.6 73.1
6.7 73.7
6.8 73.3
6.9 74.1
7.0 73.4
7.1 73.9
7.2 73.2
7.3 73.6
7.4 74.0
7.5 73.3
7.6 73.8
7.7 73.1
7.8 74.2
7.9 73.5
8.0 74.6
8.1 73.6
8.2 75.9
8.3 73.9
8.4 74.8
8.5 76.3
8.6 73.7
8.7 75.1
8.8 74.0
8.9 77.6
9.0 80.8
9.1 74.3
9.2 76.0
9.3 82.4
9.4 74.5
9.5 77.8
9.6 74.1
9.7 75.6
9.8 74.4
9.9 76.9
10.0 82.0
10.1 79.5
10.2 74.6
10.3 76.2
10.4 74.0
10.5 77.4
10.6 75.1
10.7 78.6
10.8 74.5
10.9 76.8
11.0 82.3
11.1 75.4
11.2 80.2
11.3 74.9
11.4 77.5
11.5 79.8
11.55 74.5
11.60 79.2
11.65 74.0
11.70 77.6
11.75 74.8
11.80 82.0
11.85 74.2
11.90 76.5
11.95 75.0
12.00 80.4
12.05 74.6
12.10 84.8
12.15 75.2
12.20 86.5
12.25 74.8
12.30 80.3
12.35 88.2
12.40 75.5
12.45 83.0
12.50 74.9
12.55 87.4
12.60 76.0
12.65 81.2
12.70 74.7
12.75 85.9
12.80 75.3
12.85 79.0
12.90 84.6
12.95 74.8
13.00 86.8
13.05 75.4
13.10 89.6
13.15 76.1
13.20 83.5
13.25 75.0
13.30 88.3
13.35 80.2
13.40 75.6
13.45 87.0
13.50 74.9
13.55 84.3
13.60 89.0
13.65 76.4
13.70 82.1
13.75 75.2
13.80 87.6
13.85 79.3
13.90 89.8
13.95 75.8
14.00 78.5
14.05 74.8
14.10 81.4
14.15 75.5
14.20 79.6
14.25 74.6
14.30 83.0
14.35 75.2
14.40 78.1
14.45 74.5
14.50 80.7
14.55 75.9
14.60 77.4
14.65 74.3
14.70 82.2
14.75 75.0
14.80 78.8
14.85 74.6
14.90 80.1
14.95 74.2
15.00 76.9
15.05 74.0
15.10 75.8
15.15 73.8
15.20 77.2
15.25 74.1
15.30 82.6
15.35 75.0
15.40 84.5
15.45 76.2
15.50 83.1
15.55 75.4
15.60 80.0
15.65 74.6
15.70 77.3
15.75 74.0
15.80 85.0
15.85 76.8
15.90 79.6
15.95 74.5
16.00 76.0
16.05 82.8
16.10 75.3
16.15 86.9
16.20 76.4
16.25 84.2
16.30 75.0
16.35 88.0
16.40 76.9
16.45 81.7
16.50 75.5
16.55 86.3
16.60 77.2
16.65 83.6
16.70 75.1
16.75 85.4
16.80 76.0
16.85 79.8
16.90 87.5
16.95 75.4
17.00 82.4
17.05 75.6
17.10 88.1
17.15 76.3
17.20 80.6
17.25 75.0
17.30 84.0
17.35 74.8
17.40 78.2
17.45 74.6
17.50 80.9
17.55 75.2
17.60 77.6
17.65 74.4
17.70 81.3
17.75 75.0
17.80 79.0
17.85 74.7
17.90 76.8
17.95 75.3
18.00 80.5
18.05 76.0
18.10 82.9
18.15 75.4
18.20 86.1
18.25 77.0
18.30 84.7
18.35 75.8
18.40 88.6
18.45 76.5
18.50 83.2
18.55 75.9
18.60 87.3
18.65 77.1
18.70 85.0
18.75 76.2
18.80 89.1
18.85 78.0
18.90 84.2
18.95 76.4
19.00 87.7
19.05 76.8
19.10 85.6
19.15 77.5
19.20 89.4
19.25 76.3
19.30 83.8
19.35 88.5
19.40 77.0
19.45 86.2
19.50 76.6
19.55 89.6
19.60 78.2
19.65 84.9
19.70 76.4
19.75 87.9
19.80 77.4
19.85 89.2
19.90 76.9
19.95 85.3
20.00 88.8
20.05 77.3
20.10 86.4
20.15 76.5
20.20 89.5
20.25 77.8
20.30 84.1
20.35 76.2
20.40 88.0
20.45 76.9
20.50 85.7
20.55 76.0
20.60 82.6
20.65 87.2
20.70 76.3
20.75 84.0
20.80 75.7
20.85 81.8
20.90 75.4
20.95 86.5
21.00 75.9
21.05 80.4
21.10 75.3
21.15 83.7
21.20 75.8
21.25 79.5
21.30 75.0
21.35 85.2
21.40 76.1
21.45 81.0
21.50 75.2
21.55 84.6
21.60 75.6
21.65 78.8
21.70 74.9
21.75 86.4
21.80 75.5
21.85 82.3
21.90 75.0
21.95 87.1
22.00 75.8
22.05 84.0
22.10 75.1
22.15 86.6
22.20 75.7
22.25 81.9
22.30 74.8
22.35 85.5
22.40 76.0
22.45 83.2
22.50 75.3
22.55 88.0
22.60 75.6
22.65 80.7
22.70 74.9
22.75 86.8
22.80 75.4
22.85 82.6
22.90 74.7
22.95 85.1
23.00 75.9
23.05 83.8
23.10 75.2
23.15 87.0
23.20 76.1
23.25 81.4
23.30 75.5
23.35 84.9
23.40 75.8
23.45 87.6
23.50 75.1
23.55 82.7
23.60 75.6
23.65 86.0
23.70 76.3
23.75 80.2
23.80 75.4
23.85 85.3
23.90 76.0
23.95 88.4
24.00 75.8
}\envhi

% 15 s min envelope
\pgfplotstableread{
t lo
0.00 71.2
0.25 69.6
0.50 69.9
0.75 69.7
1.00 69.9
1.25 69.6
1.50 70.1
1.75 69.7
2.00 69.8
2.25 69.5
2.50 69.9
2.75 69.7
3.00 69.6
3.25 69.9
3.50 69.7
3.75 69.5
4.00 70.0
4.25 70.4
4.50 70.2
4.75 69.8
5.00 69.5
5.25 69.8
5.50 69.6
5.75 69.4
6.00 69.2
6.25 69.0
6.50 69.3
6.75 69.1
7.00 69.3
7.25 69.0
7.50 69.2
7.75 69.1
8.00 69.3
8.25 69.0
8.50 69.2
8.75 68.9
9.00 69.2
9.25 68.9
9.50 69.1
9.75 68.8
10.00 69.0
10.25 68.8
10.50 69.1
10.75 68.7
11.00 69.0
11.25 68.8
11.50 69.0
11.75 68.6
12.00 68.9
12.25 68.3
12.50 68.8
12.75 68.2
13.00 68.7
13.25 68.1
13.50 68.6
13.75 68.0
14.00 68.5
14.25 68.2
14.50 68.7
14.75 68.4
15.00 68.8
15.25 68.5
15.50 68.3
15.75 68.6
16.00 68.0
16.25 68.5
16.50 68.2
16.75 68.6
17.00 68.3
17.25 68.7
17.50 68.5
17.75 68.8
18.00 68.4
18.25 68.7
18.50 68.3
18.75 68.6
19.00 68.2
19.25 68.5
19.50 68.1
19.75 68.6
20.00 68.2
20.25 68.5
20.50 68.0
20.75 68.4
21.00 67.9
21.25 68.3
21.50 67.8
21.75 68.2
22.00 67.6
22.25 67.9
22.50 67.7
22.75 68.1
23.00 67.6
23.25 68.0
23.50 67.8
23.75 68.2
24.00 67.9
}\envlo

\begin{tikzpicture}
\path (0pt,0pt) rectangle (2400pt,1200pt);

\node[anchor=base west, inner sep=0pt, font=\bfseries\fontsize{13.8}{16}\selectfont]
  at (24pt,1175pt) {data from [5001/mic0]};
\node[anchor=base west, inner sep=0pt, font=\bfseries\fontsize{13.8}{16}\selectfont]
  at (24pt,1160pt) {starting point is [20260101\_000023]};

% top panel
\begin{axis}[noise, at={(59pt,612pt)}, anchor=south west,
  title={average and peak noise level (1 min sampling)},
  xticklabels={00:00,02:00,04:00,06:00,08:00,10:00,12:00,14:00,16:00,18:00,20:00,22:00},
  legend columns=2]
\addlegendimage{dotleg, peakz}
\addlegendentry{peak dB(Z)}
\addlegendimage{lineleg, avgz}
\addlegendentry{avg dB(Z)}
\addlegendimage{dotleg, peakc}
\addlegendentry{peak dB(C)}
\addlegendimage{lineleg, avgc}
\addlegendentry{avg dB(C)}
\addlegendimage{dotleg, peaka}
\addlegendentry{peak dB(A)}
\addlegendimage{lineleg, avga}
\addlegendentry{avg dB(A)}
\addplot[peaks, peakz] table[x=t, y=pz] {\peaktab};
\addplot[peaks, peakz] table[x=t, y=pz] {\peaktabb};
\addplot[peaks, peakc] table[x=t, y=pc] {\peaktab};
\addplot[peaks, peakc] table[x=t, y=pc] {\peaktabb};
\addplot[peaks, peaka] table[x=t, y=pa] {\peaktab};
\addplot[peaks, peaka] table[x=t, y=pa] {\peaktabb};
\addplot[avgz, line width=1.5pt, forget plot] table[x=t, y=z] {\avgtab};
\addplot[avgc, line width=1.5pt, forget plot] table[x=t, y=c] {\avgtab};
\addplot[avga, line width=1.5pt, forget plot] table[x=t, y=a] {\avgtab};
\end{axis}
\begin{axis}[rightax, at={(59pt,612pt)}, anchor=south west]
\addplot[draw=none, forget plot] coordinates {(1,50)};
\end{axis}

% bottom panel
\begin{axis}[noise, at={(59pt,51pt)}, anchor=south west,
  title={average noise level (5 min with 15s min/max dB envelope)},
  xticklabels={00:00:00,02:00:00,04:00:00,06:00:00,08:00:00,10:00:00,12:00:00,14:00:00,16:00:00,18:00:00,20:00:00,22:00:00}]
\addplot[name path=hi, envcol, draw opacity=0.3, line width=0.6pt, forget plot] table[x=t, y=hi] {\envhi};
\addplot[name path=lo, draw=none, forget plot] table[x=t, y=lo] {\envlo};
\addplot[fill=envcol, fill opacity=0.24, draw=none, forget plot] fill between[of=hi and lo];
\addplot[lvlz, line width=2pt] table[x=t, y=z] {\lvltab};
\addlegendentry{dB(Z)}
\addplot[lvlc, line width=2pt] table[x=t, y=c] {\lvltab};
\addlegendentry{dB(C)}
\addplot[lvla, line width=2pt] table[x=t, y=a] {\lvltab};
\addlegendentry{dB(A)}
\end{axis}
\begin{axis}[rightax, at={(59pt,51pt)}, anchor=south west]
\addplot[draw=none, forget plot] coordinates {(1,50)};
\end{axis}
\end{tikzpicture}
\end{document}
